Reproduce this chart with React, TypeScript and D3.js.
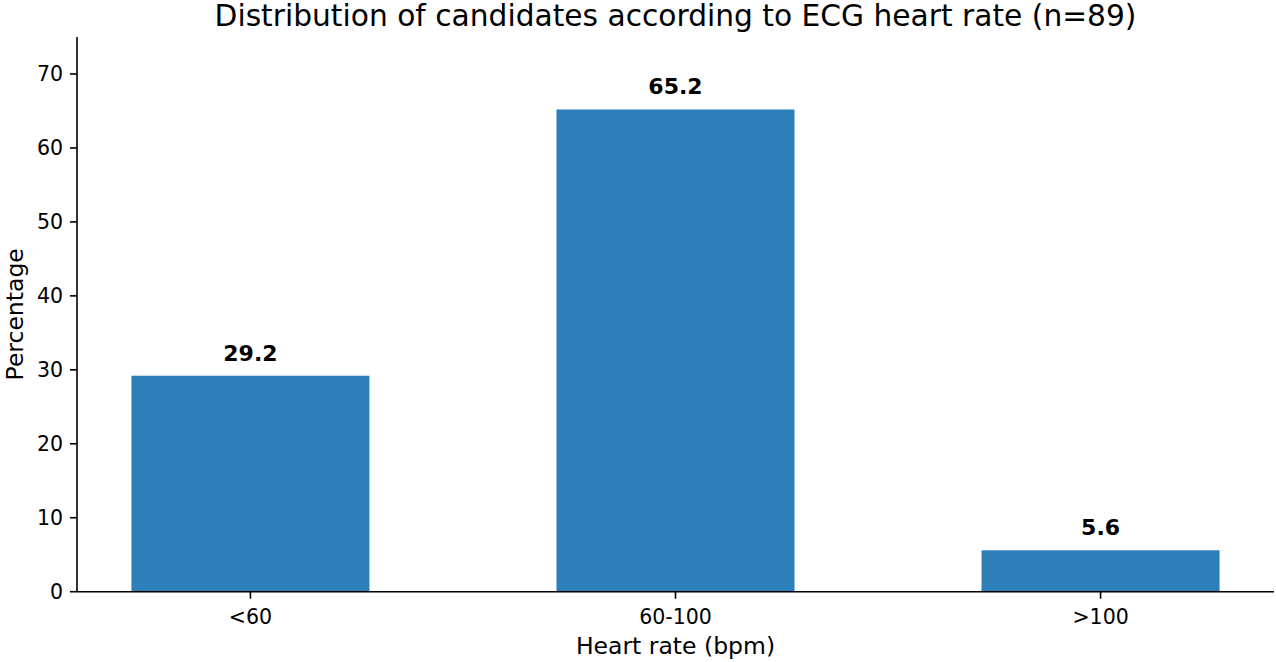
import React from 'react';
import * as d3 from 'd3';

const categories = ['<60', '60-100', '>100'];
const percentages = [29.2, 65.2, 5.6];
const yTicks = [0, 10, 20, 30, 40, 50, 60, 70];

const W = 1276;
const H = 662;
const left = 77;
const right = 1274;
const top = 37;
const bottom = 591.7;
const barWidth = 0.56;
const font = 'DejaVu Sans, sans-serif';

const App = () => {
  const x = d3.scaleLinear().domain([-0.408, 2.408]).range([left, right]);
  const y = d3.scaleLinear().domain([0, 75]).range([bottom, top]);
  const bw = x(barWidth) - x(0);

  return (
    <svg width={W} height={H} style={{ position: 'absolute', left: 0, top: 0, background: '#fff' }} fontFamily={font}>
      {/* title */}
      <text x={(left + right) / 2} y={26} textAnchor="middle" fontSize={29.7} fill="#000">
        Distribution of candidates according to ECG heart rate (n=89)
      </text>

      {/* bars */}
      {percentages.map((v, i) => (
        <g key={categories[i]}>
          <rect x={x(i) - bw / 2} y={y(v)} width={bw} height={y(0) - y(v)} fill="#2c7fb8" />
          <text x={x(i)} y={y(v) - 15} textAnchor="middle" fontSize={22} fontWeight="bold" fill="#000">
            {v.toFixed(1)}
          </text>
        </g>
      ))}

      {/* y axis */}
      <line x1={left} x2={left} y1={top} y2={bottom} stroke="#000" strokeWidth={1.6} />
      {yTicks.map(t => (
        <g key={t}>
          <line x1={left - 7} x2={left} y1={y(t)} y2={y(t)} stroke="#000" strokeWidth={1.6} />
          <text x={left - 14} y={y(t)} dy="0.36em" textAnchor="end" fontSize={20.5} fill="#000">{t}</text>
        </g>
      ))}

      {/* x axis */}
      <line x1={left} x2={right} y1={bottom} y2={bottom} stroke="#000" strokeWidth={1.6} />
      {categories.map((c, i) => (
        <g key={c}>
          <line x1={x(i)} x2={x(i)} y1={bottom} y2={bottom + 7} stroke="#000" strokeWidth={1.6} />
          <text x={x(i)} y={623.5} textAnchor="middle" fontSize={20.5} fill="#000">{c}</text>
        </g>
      ))}

      {/* axis labels */}
      <text x={(left + right) / 2} y={654} textAnchor="middle" fontSize={23.5} fill="#000">Heart rate (bpm)</text>
      <text transform={`translate(23,${(top + bottom) / 2}) rotate(-90)`} textAnchor="middle" fontSize={23.5} fill="#000">
        Percentage
      </text>
    </svg>
  );
};

export default App;
